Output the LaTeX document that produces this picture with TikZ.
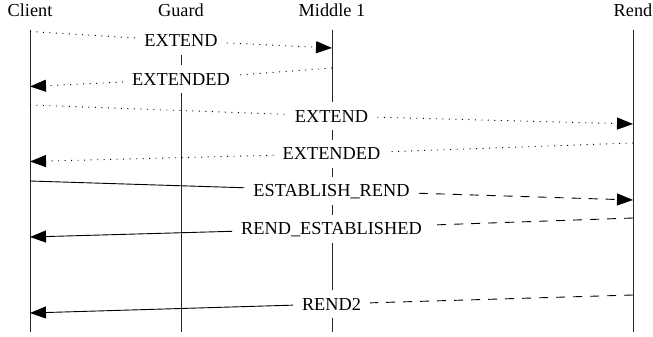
\documentclass[tikz,border=0pt]{standalone}
\usepackage{fontspec}
\setmainfont{Liberation Serif}
\usetikzlibrary{arrows.meta,calc}
\begin{document}
\begin{tikzpicture}[x=1pt,y=-1pt,
  every node/.style={font=\fontsize{18.3}{22}\selectfont},
  party/.style={anchor=base, inner sep=0pt},
  lifeline/.style={line width=0.8pt, black!85},
  msg/.style={line width=0.9pt},
  tip/.style={-{Triangle[length=16pt,width=12pt]}},
  dots/.style={dash pattern=on 1pt off 5.5pt},
  dashes/.style={dash pattern=on 9pt off 8pt},
  msglabel/.style={fill=white, inner xsep=9pt, inner ysep=8pt,
                   text height=12pt, text depth=0pt}]
  \useasboundingbox (0,0) rectangle (653,337);

  % parties and their lifelines
  \foreach \nm/\x/\txt in {client/30/Client, guard/181/Guard,
                           middle/332/Middle 1, rend/633/Rend} {
    \node[party] (\nm) at (\x,17) {\txt};
    \coordinate (\nm top) at (\x,30);
    \coordinate (\nm bot) at (\x,332);
    \draw[lifeline] (\nm top) -- (\nm bot);
  }

  % message end points on the lifelines
  \coordinate (m1s) at (30,31.5);   \coordinate (m1e) at (332,48);
  \coordinate (m2s) at (332,68);    \coordinate (m2e) at (30,86.5);
  \coordinate (m3s) at (30,105);    \coordinate (m3e) at (633,124);
  \coordinate (m4s) at (633,143);   \coordinate (m4e) at (30,161.5);
  \coordinate (m5s) at (30,181);    \coordinate (m5e) at (633,200);
  \coordinate (m6s) at (633,218);   \coordinate (m6e) at (30,237);
  \coordinate (m7s) at (633,295);   \coordinate (m7e) at (30,313);

  % message labels, sitting on the middle of each message
  \node[msglabel] (m1) at ($(m1s)!0.5!(m1e)+(0,1)$) {EXTEND};
  \node[msglabel] (m2) at ($(m2s)!0.5!(m2e)+(0,2)$) {EXTENDED};
  \node[msglabel] (m3) at ($(m3s)!0.5!(m3e)+(0,1.5)$) {EXTEND};
  \node[msglabel] (m4) at ($(m4s)!0.5!(m4e)+(0,1.5)$) {EXTENDED};
  \node[msglabel] (m5) at ($(m5s)!0.5!(m5e)$) {ESTABLISH\_REND};
  \node[msglabel] (m6) at ($(m6s)!0.5!(m6e)+(0,1)$) {REND\_ESTABLISHED};
  \node[msglabel] (m7) at ($(m7s)!0.5!(m7e)$) {REND2};

  % circuit extension cells
  \draw[msg,dots] (m1s) -- (m1);
  \draw[msg,dots,tip] (m1) -- (m1e);
  \draw[msg,dots] (m2s) -- (m2);
  \draw[msg,dots,tip] (m2) -- (m2e);
  \draw[msg,dots] (m3s) -- (m3);
  \draw[msg,dots,tip] (m3) -- (m3e);
  \draw[msg,dots] (m4s) -- (m4);
  \draw[msg,dots,tip] (m4) -- (m4e);

  % rendezvous cells
  \draw[msg] (m5s) -- (m5);
  \draw[msg,dashes,tip] (m5) -- (m5e);
  \draw[msg,dashes] (m6s) -- (m6);
  \draw[msg,tip] (m6) -- (m6e);
  \draw[msg,dashes] (m7s) -- (m7);
  \draw[msg,tip] (m7) -- (m7e);
\end{tikzpicture}
\end{document}
